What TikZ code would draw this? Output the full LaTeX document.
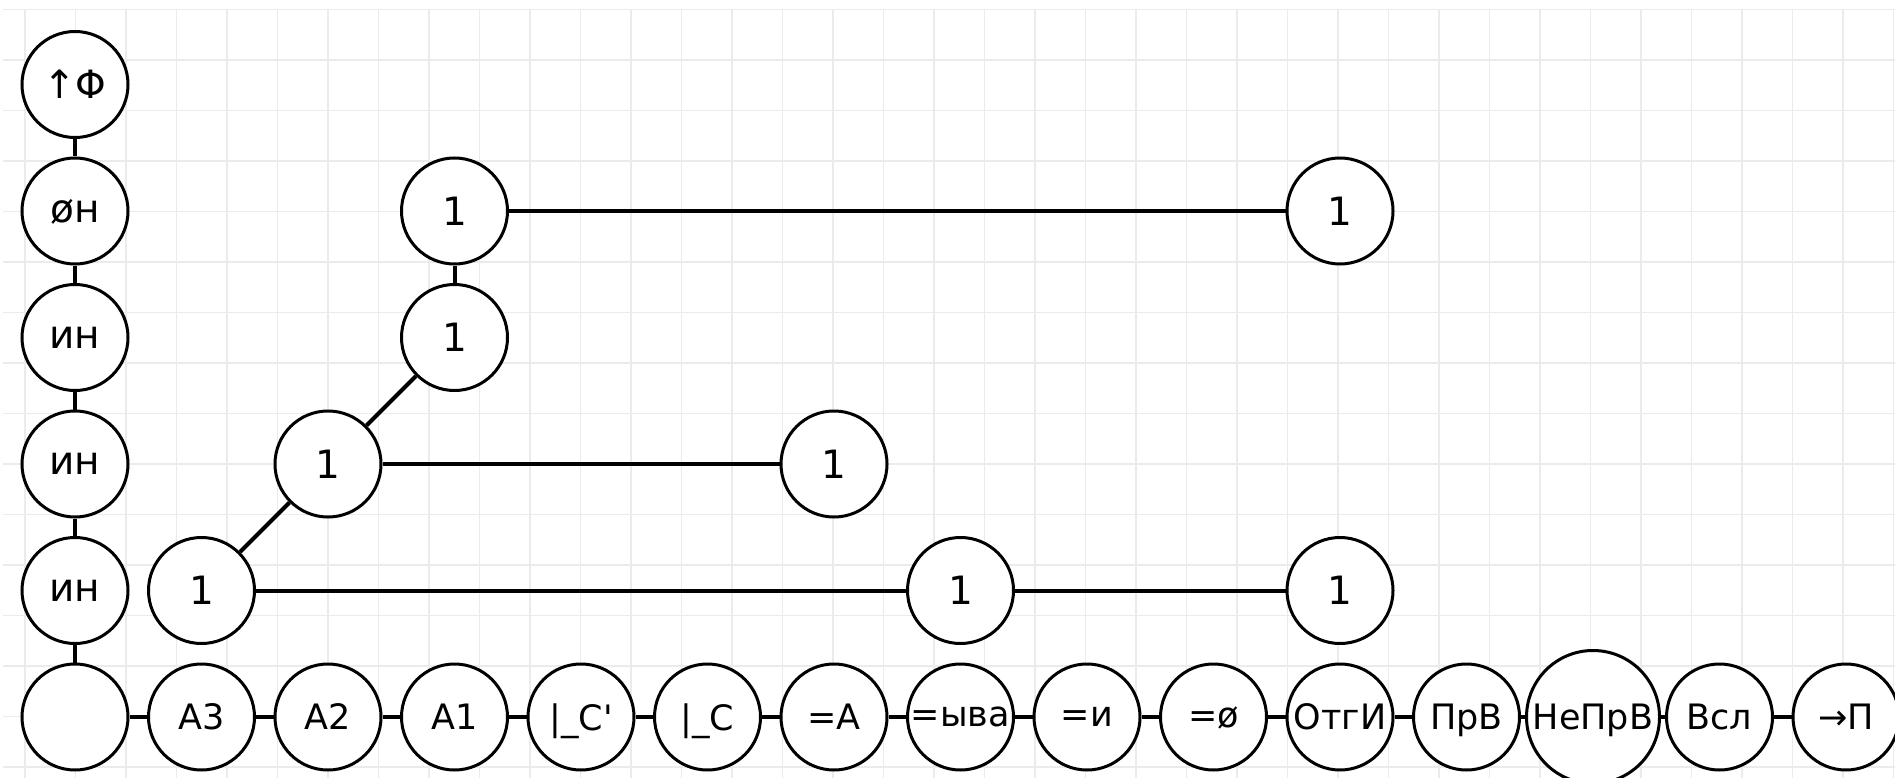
\documentclass[tikz,border=0pt]{standalone}
\usepackage{fontspec}
\setmainfont{DejaVu Sans}
\definecolor{gridc}{HTML}{EBEBEB}
\begin{document}
\begin{tikzpicture}[x=1pt,y=-1pt,
  nd/.style={circle,draw,line width=3pt,minimum size=106pt,inner sep=0pt,fill=white,text depth=0pt,font=\fontsize{35}{40}\selectfont},
  bignd/.style={nd,font=\fontsize{39}{44}\selectfont},
  widend/.style={nd,minimum size=133pt},
  ln/.style={line width=4pt},
  gl/.style={draw=gridc,line width=1.5pt}]
\useasboundingbox (0,0) rectangle (1895,778);
\fill[white] (0,0) rectangle (1895,778);
\foreach \k in {0,...,37} \draw[gl] ({24.9+50.5*\k},9.3) -- ({24.9+50.5*\k},778);
\foreach \k in {0,...,15} \draw[gl] (3,{9.3+50.5*\k}) -- (1895,{9.3+50.5*\k});
% left column
\node[bignd] (L0) at (75,84.5) {↑Φ};
\node[bignd] (L1) at (75,211) {øн};
\node[bignd] (L2) at (75,337.5) {ин};
\node[bignd] (L3) at (75,464) {ин};
\node[bignd] (L4) at (75,590.5) {ин};
% bottom row
\node[nd] (B0) at (75,717) {};
\node[nd] (B1) at (201.5,717) {A3};
\node[nd] (B2) at (328,717) {A2};
\node[nd] (B3) at (454.5,717) {A1};
\node[nd] (B4) at (581,717) {|\_C\textquotesingle};
\node[nd] (B5) at (707.5,717) {|\_C};
\node[nd] (B6) at (834,717) {=A};
\node[nd] (B7) at (960.5,717) {=ыва};
\node[nd] (B8) at (1087,717) {=и};
\node[nd] (B9) at (1213.5,717) {=ø};
\node[nd] (B10) at (1340,717) {ОтгИ};
\node[nd] (B11) at (1466.5,717) {ПрВ};
\node[widend] (B12) at (1593,717) {НеПрВ};
\node[nd] (B13) at (1719.5,717) {Всл};
\node[nd] (B14) at (1846,717) {→П};
% ones
\node[bignd] (U1) at (454.5,211) {1};
\node[bignd] (U2) at (1340,211) {1};
\node[bignd] (M1) at (454.5,337.5) {1};
\node[bignd] (N1) at (328,464) {1};
\node[bignd] (N2) at (834,464) {1};
\node[bignd] (P1) at (201.5,590.5) {1};
\node[bignd] (P2) at (960.5,590.5) {1};
\node[bignd] (P3) at (1340,590.5) {1};
% connectors
\draw[ln] (L0) -- (L1);
\draw[ln] (L1) -- (L2);
\draw[ln] (L2) -- (L3);
\draw[ln] (L3) -- (L4);
\draw[ln] (L4) -- (B0);
\foreach \a/\b in {B0/B1,B1/B2,B2/B3,B3/B4,B4/B5,B5/B6,B6/B7,B7/B8,B8/B9,B9/B10,B10/B11,B11/B12,B12/B13,B13/B14}
  \draw[ln] (\a) -- (\b);
\draw[ln] (U1) -- (U2);
\draw[ln] (U1) -- (M1);
\draw[ln] (M1) -- (N1);
\draw[ln] (N1) -- (N2);
\draw[ln] (N1) -- (P1);
\draw[ln] (P1) -- (P2);
\draw[ln] (P2) -- (P3);
\end{tikzpicture}
\end{document}
